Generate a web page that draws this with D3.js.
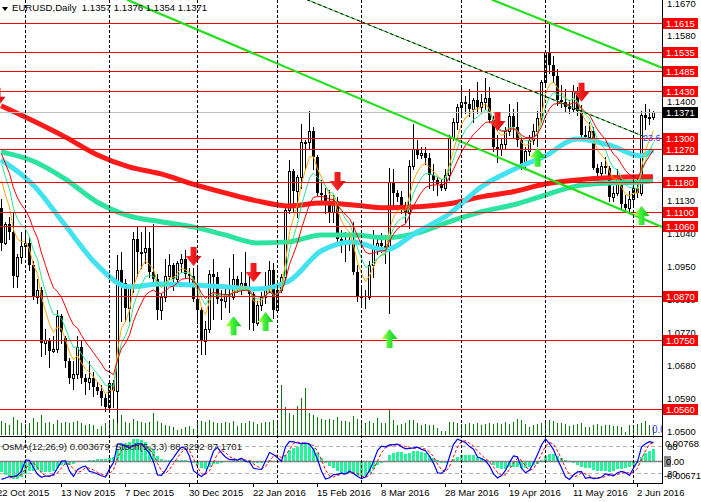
<!DOCTYPE html>
<html><head><meta charset="utf-8">
<script src="https://cdn.jsdelivr.net/npm/d3@7"></script>
<style>
body{margin:0;background:#fff}
svg{display:block}
text{font-family:"Liberation Sans",Arial,sans-serif}
</style></head>
<body><svg id="c" width="701" height="502"></svg>
<script>
// ---------------- DATA ----------------
const symbolTitle = "EURUSD,Daily  1.1357 1.1376 1.1354 1.1371";
const subTitle = "OsMA(12,26,9) 0.003679  Stoch(5,3,3) 88.3292 87.1701";
const preBars = 6; // Oct 15 - Oct 22 2015, left of the visible area
const warmupCloses = [1.1315,1.1230,1.1120,1.1150,1.1170,1.1205,1.1190,1.1275,1.1340,1.1315,1.1265,1.1290,1.1430,1.1295,1.1195,1.1135,1.1185,1.1215,1.1195,1.1235,1.1255,1.1175,1.1195,1.1210,1.1195,1.1265,1.1235,1.1275,1.1355,1.1360,1.1380,1.1470];

const open = [
1.1470,1.1380,1.1350,1.1325,1.1345,1.1345,
1.1110,1.1015,1.1065,1.1045,1.0925,1.0975,1.1005,1.1015,1.0955,1.0865,
1.0885,1.0740,1.0750,1.0720,1.0725,1.0815,1.0755,1.0690,1.0645,1.0655,
1.0730,1.0645,1.0635,1.0645,1.0620,1.0610,1.0590,1.0565,1.0630,1.0610,
1.0940,1.0905,1.0835,1.0890,1.1025,1.0990,1.0990,1.1000,1.0935,1.0915,
1.0830,1.0865,1.0925,1.0955,1.0915,1.0960,1.0970,1.0930,1.0925,1.0860,
1.0830,1.0745,1.0780,1.0930,1.0920,1.0860,1.0855,1.0875,1.0865,1.0915,
1.0890,1.0905,1.0890,1.0875,1.0795,1.0845,1.0865,1.0890,1.0940,1.0830,
1.0885,1.0920,1.1105,1.1210,1.1155,1.1195,1.1290,1.1290,1.1320,1.1250,
1.1150,1.1145,1.1125,1.1100,1.1130,1.1025,1.1020,1.1015,1.1020,1.0935,
1.0870,1.0870,1.0865,1.0955,1.1000,1.1015,1.1005,1.0995,1.1180,1.1150,
1.1140,1.1110,1.1095,1.1225,1.1270,1.1255,1.1260,1.1245,1.1200,1.1185,
1.1175,1.1165,1.1200,1.1300,1.1345,1.1385,1.1400,1.1395,1.1380,1.1405,
1.1385,1.1400,1.1410,1.1350,1.1275,1.1270,1.1285,1.1320,1.1360,1.1330,
1.1295,1.1230,1.1265,1.1295,1.1320,1.1355,1.1455,1.1535,1.1500,1.1470,
1.1405,1.1400,1.1385,1.1380,1.1430,1.1375,1.1310,1.1305,1.1320,1.1220,
1.1205,1.1225,1.1220,1.1140,1.1150,1.1190,1.1120,1.1110,1.1135,1.1165,
1.1150,1.1365,1.1355,1.1357];
const high = [
1.1495,1.1390,1.1385,1.1385,1.1365,1.1360,
1.1135,1.1070,1.1085,1.1095,1.0985,1.1045,1.1045,1.1030,1.0965,1.0915,
1.0895,1.0780,1.0755,1.0760,1.0830,1.0820,1.0760,1.0700,1.0690,1.0760,
1.0745,1.0655,1.0690,1.0660,1.0635,1.0625,1.0600,1.0640,1.0640,1.0980,
1.0990,1.0915,1.0895,1.1045,1.1060,1.1045,1.1060,1.1045,1.1065,1.0930,
1.0875,1.0970,1.0985,1.0960,1.0965,1.0985,1.0995,1.0945,1.0945,1.0945,
1.0840,1.0800,1.0940,1.0970,1.0935,1.0885,1.0900,1.0945,1.0985,1.0925,
1.0935,1.0990,1.0935,1.0880,1.0855,1.0880,1.0935,1.0965,1.0960,1.0900,
1.0930,1.1115,1.1240,1.1215,1.1200,1.1340,1.1295,1.1376,1.1330,1.1255,
1.1185,1.1165,1.1160,1.1145,1.1140,1.1050,1.1045,1.1045,1.1070,1.0955,
1.0895,1.0885,1.0965,1.1050,1.1025,1.1040,1.1035,1.1220,1.1215,1.1160,
1.1155,1.1125,1.1240,1.1340,1.1295,1.1275,1.1275,1.1260,1.1230,1.1195,
1.1190,1.1215,1.1310,1.1355,1.1395,1.1440,1.1415,1.1435,1.1410,1.1455,
1.1420,1.1465,1.1440,1.1360,1.1310,1.1300,1.1330,1.1395,1.1380,1.1400,
1.1305,1.1275,1.1310,1.1340,1.1375,1.1460,1.1540,1.1616,1.1525,1.1490,
1.1445,1.1435,1.1405,1.1445,1.1440,1.1390,1.1335,1.1345,1.1330,1.1230,
1.1235,1.1250,1.1225,1.1170,1.1215,1.1200,1.1145,1.1155,1.1195,1.1200,
1.1375,1.1395,1.1380,1.1376];
const low = [
1.1370,1.1345,1.1320,1.1320,1.1330,1.1105,
1.0995,1.1010,1.1025,1.0895,1.0895,1.0960,1.0985,1.0940,1.0860,1.0850,
1.0705,1.0710,1.0675,1.0715,1.0715,1.0740,1.0675,1.0630,1.0615,1.0645,
1.0630,1.0600,1.0615,1.0595,1.0600,1.0570,1.0555,1.0560,1.0565,1.0525,
1.0800,1.0800,1.0800,1.0880,1.0925,1.0945,1.0960,1.0920,1.0900,1.0805,
1.0805,1.0855,1.0915,1.0885,1.0910,1.0935,1.0920,1.0900,1.0855,1.0795,
1.0710,1.0710,1.0770,1.0805,1.0850,1.0805,1.0840,1.0825,1.0860,1.0880,
1.0875,1.0890,1.0780,1.0775,1.0790,1.0830,1.0850,1.0880,1.0810,1.0825,
1.0880,1.0905,1.1095,1.1100,1.1085,1.1165,1.1215,1.1270,1.1215,1.1145,
1.1130,1.1095,1.1070,1.1070,1.1010,1.0990,1.0965,1.0995,1.0930,1.0855,
1.0840,1.0835,1.0860,1.0920,1.0985,1.0990,1.0960,1.0822,1.1110,1.1130,
1.1095,1.1070,1.1055,1.1215,1.1245,1.1245,1.1230,1.1165,1.1160,1.1145,
1.1160,1.1160,1.1185,1.1295,1.1325,1.1365,1.1370,1.1360,1.1345,1.1370,
1.1370,1.1380,1.1345,1.1265,1.1235,1.1255,1.1270,1.1310,1.1300,1.1280,
1.1215,1.1215,1.1255,1.1285,1.1280,1.1345,1.1440,1.1480,1.1455,1.1390,
1.1385,1.1375,1.1370,1.1375,1.1365,1.1300,1.1295,1.1295,1.1215,1.1185,
1.1195,1.1205,1.1130,1.1130,1.1145,1.1110,1.1100,1.1100,1.1120,1.1140,
1.1145,1.1325,1.1340,1.1354];
const close = [
1.1380,1.1350,1.1325,1.1345,1.1345,1.1110,
1.1015,1.1065,1.1045,1.0925,1.0975,1.1005,1.1015,1.0955,1.0865,1.0885,
1.0740,1.0750,1.0720,1.0725,1.0815,1.0770,1.0690,1.0645,1.0655,1.0730,
1.0645,1.0635,1.0645,1.0620,1.0610,1.0590,1.0565,1.0630,1.0610,1.0940,
1.0905,1.0835,1.0890,1.1025,1.0990,1.0990,1.1000,1.0935,1.0915,1.0830,
1.0865,1.0925,1.0955,1.0915,1.0960,1.0970,1.0930,1.0925,1.0860,1.0830,
1.0745,1.0780,1.0930,1.0920,1.0860,1.0855,1.0875,1.0865,1.0915,1.0890,
1.0905,1.0890,1.0875,1.0795,1.0845,1.0865,1.0890,1.0940,1.0830,1.0885,
1.0920,1.1105,1.1210,1.1155,1.1195,1.1290,1.1290,1.1320,1.1250,1.1150,
1.1145,1.1125,1.1100,1.1130,1.1025,1.1020,1.1015,1.1020,1.0935,1.0870,
1.0870,1.0865,1.0955,1.1000,1.1015,1.1005,1.0995,1.1180,1.1150,1.1140,
1.1110,1.1095,1.1225,1.1270,1.1255,1.1260,1.1245,1.1200,1.1185,1.1175,
1.1165,1.1200,1.1300,1.1345,1.1385,1.1400,1.1395,1.1380,1.1405,1.1385,
1.1400,1.1410,1.1350,1.1275,1.1270,1.1285,1.1320,1.1360,1.1330,1.1295,
1.1230,1.1265,1.1295,1.1320,1.1355,1.1455,1.1535,1.1500,1.1470,1.1405,
1.1400,1.1385,1.1380,1.1430,1.1375,1.1310,1.1305,1.1320,1.1220,1.1205,
1.1225,1.1220,1.1140,1.1150,1.1190,1.1120,1.1110,1.1135,1.1165,1.1150,
1.1365,1.1355,1.1357,1.1371];
// tick volume (thousands) of the visible bars
const volume = [
14,12,10,18,15,12,11,12,17,13, 20,12,13,11,15,12,13,12,13,14,
12,10,11,10,6,9,12,14,16,28, 20,13,12,16,14,13,12,13,22,14,
12,10,9,8,5,6,8,9,6,12, 14,13,15,13,12,12,13,12,14,9,
12,12,14,13,11,12,13,13,15,13, 50,28,22,20,29,37,47,22,20,18,
16,15,16,15,18,14,14,13,19,16, 12,12,14,12,17,12,12,26,15,10,
11,12,15,15,12,10,11,10,10,7, 4,4,13,13,12,11,11,12,11,12,
10,11,12,11,12,11,13,11,13,16, 15,11,8,10,11,12,13,15,14,12,
12,11,9,10,11,12,8,8,10,11, 9,10,10,9,9,8,3,10,10,11,
12,14,10,8];
const maSampleBars = [0,8,16,24,32,40,48,56,64,72,80,88,96,104,112,120,128,136,144,152,160,163];
const ma50  = [1.1241,1.1173,1.1063,1.0954,1.0894,1.0902,1.0899,1.0894,1.0888,1.0910,1.0992,1.1017,1.0995,1.1044,1.1093,1.1167,1.1214,1.1252,1.1298,1.1282,1.1252,1.1268];
const ma100 = [1.1263,1.1238,1.1189,1.1126,1.1088,1.1072,1.1058,1.1036,1.1014,1.1017,1.1036,1.1036,1.1028,1.1041,1.1072,1.1099,1.1118,1.1145,1.1170,1.1178,1.1181,1.1184];
const ma200 = [1.1389,1.1348,1.1304,1.1255,1.1222,1.1203,1.1175,1.1151,1.1129,1.1115,1.1123,1.1118,1.1110,1.1113,1.1121,1.1140,1.1154,1.1175,1.1186,1.1192,1.1195,1.1195];

const levels = [1.1615,1.1535,1.1485,1.1430,1.1300,1.1270,1.1180,1.1100,1.1060,1.0870,1.0750,1.0560];
const priceTicks = [1.1670,1.1580,1.1400,1.1220,1.1130,1.1040,1.0950,1.0860,1.0770,1.0680,1.0590,1.0500];
const dateLabels = ["22 Oct 2015","13 Nov 2015","7 Dec 2015","30 Dec 2015","22 Jan 2016","15 Feb 2016","8 Mar 2016","28 Mar 2016","19 Apr 2016","11 May 2016","2 Jun 2016"];
const dateLabelBars = [-1,15,31,47,63,79,95,111,127,143,159];
const monthStartBars = [6,27,49,69,90,115,136,158];
const sellBars = [-1,48,63,84,124,145];
const sellPrices = [1.1438,1.1003,1.0959,1.1208,1.1372,1.1452];
const buyBars = [58,66,97,134,160];
const buyPrices = [1.0814,1.0825,1.0779,1.1274,1.1115];
// trend lines: [bar, price, bar, price]
const trendLower = [31.5,1.1679,165.25,1.1058];
const trendUpper = [122.75,1.1679,165.25,1.1493];
const fiboLine  = [76.5,1.1679,161,1.1304];
const fiboLabel = "23.6";
const osmaRange = [-0.00671,0.00768];
const subLabels = ["0.00768","80","0.00","-0.00671","20"];
const stochLevels = [80,20];
const lastPrice = 1.1371;

// ---------------- CHART ----------------
const svg = d3.select("#c");
const W = 662, mainBottom = 436, subTop = 437, subBottom = 483;
const nVis = close.length - preBars;
const x = d3.scaleLinear().domain([0, nVis - 1]).range([1, 653]);
const y = d3.scaleLinear().domain([1.05, 1.167]).range([431, 3]);
const yVol = d3.scaleLinear().domain([0, 60]).range([435, 375]);
const ySub = d3.scaleLinear().domain(osmaRange).range([subBottom - 1, subTop]);
const yStoch = d3.scaleLinear().domain([0, 100]).range([subBottom - 1, subTop]);

const defs = svg.append("defs");
defs.append("clipPath").attr("id","clipMain").append("rect").attr("x",0).attr("y",0).attr("width",W).attr("height",mainBottom);
defs.append("clipPath").attr("id","clipSub").append("rect").attr("x",0).attr("y",subTop).attr("width",W).attr("height",subBottom-subTop);
const gg = defs.append("linearGradient").attr("id","gArrow").attr("x1","0").attr("x2","1").attr("y1","0").attr("y2","0");
gg.append("stop").attr("offset","0%").attr("stop-color","#d8ff3a");
gg.append("stop").attr("offset","45%").attr("stop-color","#3cf03c");
gg.append("stop").attr("offset","100%").attr("stop-color","#12c412");
const rg = defs.append("linearGradient").attr("id","rArrow").attr("x1","0").attr("x2","1").attr("y1","0").attr("y2","0");
rg.append("stop").attr("offset","0%").attr("stop-color","#ff3a3a");
rg.append("stop").attr("offset","100%").attr("stop-color","#e00000");

const main = svg.append("g").attr("clip-path","url(#clipMain)");
const sub = svg.append("g").attr("clip-path","url(#clipSub)");

// header
svg.append("path").attr("d","M2,7 L8,7 L5,11 Z").attr("fill","#000");
svg.append("text").attr("x",12).attr("y",11).attr("font-size",9.6).attr("fill","#000")
  .style("white-space","pre").text(symbolTitle);

// vertical dashed grid
monthStartBars.forEach(b=>{
  svg.append("line").attr("x1",x(b)+0.5).attr("x2",x(b)+0.5).attr("y1",0).attr("y2",subBottom)
    .attr("stroke","#000").attr("stroke-dasharray","3,2").attr("stroke-width",1);
});

// volumes
main.append("g").selectAll("line").data(volume).join("line")
  .attr("x1",(v,i)=>x(i)+0.5).attr("x2",(v,i)=>x(i)+0.5)
  .attr("y1",yVol(0)).attr("y2",v=>yVol(v)).attr("stroke","#0a7a0a").attr("stroke-width",1);
main.append("text").attr("x",652).attr("y",433).attr("font-size",10).attr("fill","#3a3aff").text("0.0");

// candles
const cg = main.append("g").attr("shape-rendering","crispEdges");
for (let k = 0; k < close.length; k++) {
  const i = k - preBars, px = Math.round(x(i));
  if (px < -4) continue;
  const o = open[k], c = close[k];
  cg.append("line").attr("x1",px+0.5).attr("x2",px+0.5).attr("y1",Math.round(y(high[k]))).attr("y2",Math.round(y(low[k]))+1).attr("stroke","#000");
  const top = Math.round(y(Math.max(o,c))), bot = Math.round(y(Math.min(o,c)));
  if (c >= o) {
    cg.append("rect").attr("x",px-0.5).attr("y",top+0.5).attr("width",2).attr("height",Math.max(bot-top,1))
      .attr("fill","#fff").attr("stroke","#000");
  } else {
    cg.append("rect").attr("x",px-1).attr("y",top).attr("width",3).attr("height",Math.max(bot-top,1)).attr("fill","#000");
  }
}

// long moving averages (read values)
const maLine = d3.line().x(d=>x(d[0])).y(d=>y(d[1])).curve(d3.curveMonotoneX);
[[ma100,"#2de3a0"],[ma200,"#ff1a1a"],[ma50,"#42e2ee"]].forEach(([arr,col])=>{
  main.append("path").attr("d",maLine(maSampleBars.map((b,j)=>[b,arr[j]])))
    .attr("fill","none").attr("stroke",col).attr("stroke-width",5).attr("stroke-linejoin","round");
});

// computed indicators
function ema(src,n){const a=2/(n+1);const out=[];let v=src[0];src.forEach((s,j)=>{v=j===0?s:a*s+(1-a)*v;out.push(v);});return out;}
const allC = warmupCloses.concat(close);
const off = warmupCloses.length + preBars;
const line2 = d3.line().defined(d=>d[1]!=null).x(d=>x(d[0])+0.5).y(d=>y(d[1]));
[[5,"#ffa500"],[8,"#22e890"],[13,"#ff0000"]].forEach(([n,col])=>{
  const e = ema(allC,n).slice(off);
  main.append("path").attr("d",line2(e.map((v,i)=>[i,v]))).attr("fill","none").attr("stroke",col).attr("stroke-width",1);
});

// red levels, bid line
levels.forEach(l=>{
  main.append("line").attr("x1",0).attr("x2",W).attr("y1",Math.round(y(l))+0.5).attr("y2",Math.round(y(l))+0.5)
    .attr("stroke","#ff0000").attr("stroke-width",1);
});
main.append("line").attr("x1",0).attr("x2",W).attr("y1",Math.round(y(lastPrice))+0.5).attr("y2",Math.round(y(lastPrice))+0.5)
  .attr("stroke","#c0c0c0").attr("stroke-width",1);

// trend lines
function tl(a,col,w,dash){
  return main.append("line").attr("x1",x(a[0])).attr("y1",y(a[1])).attr("x2",x(a[2])).attr("y2",y(a[3]))
    .attr("stroke",col).attr("stroke-width",w).attr("stroke-dasharray",dash||null);
}
tl(trendLower,"#22e01a",2.2);
tl(trendUpper,"#22e01a",2.2);
tl(fiboLine,"#1ab81a",1);
tl(fiboLine,"#000",1,"3,3");
main.append("text").attr("x",x(fiboLine[2])-2).attr("y",y(fiboLine[3])+4).attr("font-size",9).attr("fill","#2a3cff").text(fiboLabel);

// arrows
const downPath = "M-3,0 L3,0 L3,9 L8,9 L0,19 L-8,9 L-3,9 Z";
const upPath = "M0,0 L8,10 L3,10 L3,19 L-3,19 L-3,10 L-8,10 Z";
sellBars.forEach((b,j)=>{
  main.append("path").attr("d",downPath).attr("transform",`translate(${x(b)+0.5},${y(sellPrices[j])})`).attr("fill","url(#rArrow)");
});
buyBars.forEach((b,j)=>{
  main.append("path").attr("d",upPath).attr("transform",`translate(${x(b)+0.5},${y(buyPrices[j])})`).attr("fill","url(#gArrow)");
});

// ---- sub window ----
svg.append("text").attr("x",2).attr("y",450).attr("font-size",9.6).attr("fill","#222").style("white-space","pre").text(subTitle);
// OsMA
const e12 = ema(allC,12), e26 = ema(allC,26);
const macd = e12.map((v,j)=>v-e26[j]);
const sig = macd.map((v,j)=> j<8?null:d3.mean(macd.slice(j-8,j+1)));
const osma = macd.map((v,j)=> sig[j]==null?0:v-sig[j]).slice(off);
sub.append("g").attr("shape-rendering","crispEdges").selectAll("rect").data(osma).join("rect")
  .attr("x",(v,i)=>Math.round(x(i))-1).attr("width",3)
  .attr("y",v=>Math.min(ySub(v),ySub(0))).attr("height",v=>Math.abs(ySub(v)-ySub(0)))
  .attr("fill","#22f59a");
// levels
sub.append("line").attr("x1",0).attr("x2",W).attr("y1",Math.round(ySub(0))+0.5).attr("y2",Math.round(ySub(0))+0.5).attr("stroke","#808080").attr("stroke-width",1.6);
stochLevels.forEach(l=>{
  sub.append("line").attr("x1",0).attr("x2",W).attr("y1",Math.round(yStoch(l))+0.5).attr("y2",Math.round(yStoch(l))+0.5)
    .attr("stroke","#b0b0b0").attr("stroke-dasharray","4,3");
});
// Stochastic 5,3,3
const kRaw = [], kSlow = [], dSig = [];
for (let k=0;k<close.length;k++){
  if (k<4){kRaw.push(null);continue;}
  const ll=d3.min(low.slice(k-4,k+1)), hh=d3.max(high.slice(k-4,k+1));
  kRaw.push([close[k]-ll, hh-ll]);
}
for (let k=0;k<close.length;k++){
  if (k<6){kSlow.push(null);continue;}
  let n=0,d=0; for(let j=k-2;j<=k;j++){n+=kRaw[j][0];d+=kRaw[j][1];}
  kSlow.push(d===0?100:100*n/d);
}
for (let k=0;k<close.length;k++){
  dSig.push(k<8?null:(kSlow[k]+kSlow[k-1]+kSlow[k-2])/3);
}
const sLine = d3.line().defined(d=>d[1]!=null).x(d=>x(d[0])+0.5).y(d=>yStoch(d[1]));
sub.append("path").attr("d",sLine(dSig.slice(preBars).map((v,i)=>[i,v]))).attr("fill","none").attr("stroke","#ff0000").attr("stroke-dasharray","3,2").attr("stroke-width",1);
sub.append("path").attr("d",sLine(kSlow.slice(preBars).map((v,i)=>[i,v]))).attr("fill","none").attr("stroke","#0000ff").attr("stroke-width",1.2);

// frame lines
svg.append("line").attr("x1",W+0.5).attr("x2",W+0.5).attr("y1",0).attr("y2",subBottom+1).attr("stroke","#000");
svg.append("line").attr("x1",0).attr("x2",W).attr("y1",mainBottom+0.5).attr("y2",mainBottom+0.5).attr("stroke","#000");
svg.append("line").attr("x1",0).attr("x2",W).attr("y1",subBottom+0.5).attr("y2",subBottom+0.5).attr("stroke","#000");

// price axis
const ax = svg.append("g").attr("font-size",9.4);
priceTicks.forEach(p=>{
  ax.append("text").attr("x",667).attr("y",y(p)+3.5).attr("fill","#000").text(p.toFixed(4));
});
levels.forEach(l=>{
  const yy=Math.round(y(l));
  ax.append("rect").attr("x",663).attr("y",yy-5).attr("width",35).attr("height",11).attr("fill","#ff0000");
  ax.append("text").attr("x",666).attr("y",yy+4).attr("fill","#fff").text(l.toFixed(4));
});
{
  const yy=Math.round(y(lastPrice));
  ax.append("rect").attr("x",663).attr("y",yy-5).attr("width",35).attr("height",11).attr("fill","#000");
  ax.append("text").attr("x",666).attr("y",yy+4).attr("fill","#fff").text(lastPrice.toFixed(4));
}
// sub axis labels
ax.append("text").attr("x",665).attr("y",447).attr("fill","#000").text(subLabels[0]);
ax.append("text").attr("x",667).attr("y",yStoch(80)+4).attr("fill","#000").text(subLabels[1]);
ax.append("rect").attr("x",664).attr("y",Math.round(ySub(0))-5).attr("width",7).attr("height",11).attr("fill","#8a8a8a");
ax.append("text").attr("x",666).attr("y",ySub(0)+4).attr("fill","#000").text(subLabels[2]);
ax.append("text").attr("x",664).attr("y",479).attr("fill","#000").text(subLabels[3]);
ax.append("text").attr("x",667).attr("y",yStoch(20)+4).attr("fill","#000").text(subLabels[4]);

// date axis
dateLabels.forEach((t,j)=>{
  svg.append("text").attr("x",x(dateLabelBars[j])).attr("y",496).attr("font-size",9.6).attr("fill","#000").text(t);
  svg.append("line").attr("x1",x(dateLabelBars[j])+0.5).attr("x2",x(dateLabelBars[j])+0.5).attr("y1",subBottom+1).attr("y2",subBottom+4).attr("stroke","#000");
});
</script>
</body></html>
